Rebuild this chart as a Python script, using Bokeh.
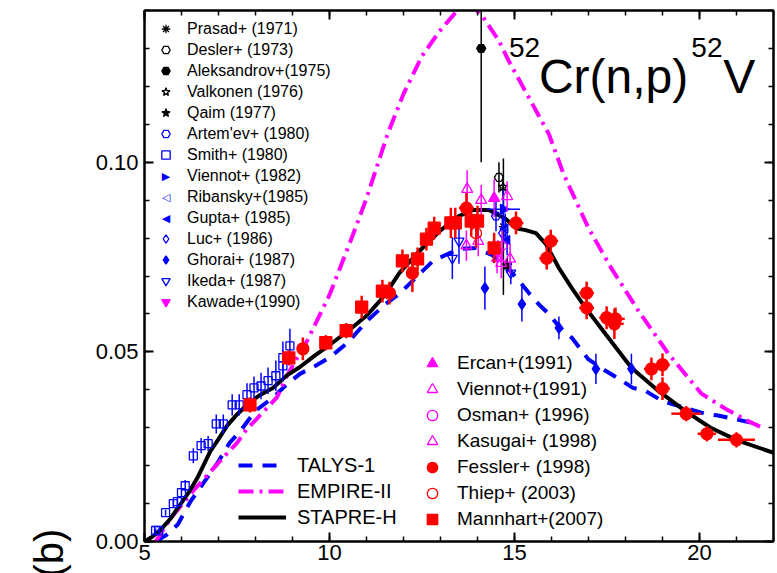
import math
from bokeh.plotting import figure
from bokeh.models import (ColumnDataSource, FixedTicker, PrintfTickFormatter, LinearAxis,
                          Legend, LegendItem, Label, Title)
from bokeh.embed import file_html
from bokeh.resources import INLINE

FONT = "Liberation Sans"

# ---------------- model curves ----------------
talys_e = [5.3, 5.6, 5.9, 6.24, 6.6, 6.96, 7.3, 7.58, 8.0, 8.47, 8.8, 9.2, 9.6, 10.0, 10.5, 11.0,
           11.5, 11.89, 12.43, 12.8, 13.24, 13.6, 13.96, 14.4, 14.77, 15.1, 15.39, 15.66, 15.93,
           16.2, 16.55, 17.0, 17.46, 17.8, 18.2, 18.54, 19.0, 19.24, 19.7, 20.15, 20.5, 21.0, 21.4]
talys_cs = [0.0, 0.0018, 0.0045, 0.0105, 0.0155, 0.0205, 0.026, 0.029, 0.0345, 0.0379, 0.041,
            0.0442, 0.0462, 0.0485, 0.0525, 0.058, 0.0625, 0.0653, 0.0705, 0.074, 0.076, 0.0772,
            0.0774, 0.0755, 0.0726, 0.069, 0.0655, 0.0625, 0.06, 0.0567, 0.0537, 0.048, 0.045,
            0.043, 0.0405, 0.0397, 0.037, 0.0363, 0.035, 0.0337, 0.0332, 0.0322, 0.0313]

empire_e = [5.3, 5.7, 6.32, 6.7, 7.05, 7.5, 7.77, 8.04, 8.58, 8.85, 9.1, 9.4, 9.7, 10.0, 10.28,
            10.6, 11.0, 11.57, 12.0, 12.5, 12.97, 13.5, 13.8, 14.1, 14.58, 14.85, 15.39, 15.93,
            16.33, 17.0, 17.62, 18.35, 19.16, 20.05, 20.7, 21.3, 21.77]
empire_cs = [0.0, 0.006, 0.0134, 0.0175, 0.0213, 0.026, 0.0297, 0.0324, 0.038, 0.0437, 0.048,
             0.053, 0.059, 0.065, 0.072, 0.08, 0.0905, 0.1074, 0.118, 0.128, 0.1345, 0.1405,
             0.1415, 0.139, 0.132, 0.1266, 0.117, 0.1074, 0.0968, 0.0826, 0.072, 0.0608, 0.0495,
             0.039, 0.035, 0.0318, 0.0297]

stapre_e = [5.0, 5.2, 5.43, 5.7, 5.97, 6.2, 6.43, 6.78, 7.0, 7.23, 7.5, 7.77, 8.1, 8.47, 8.85,
            9.2, 9.6, 10.0, 10.5, 11.0, 11.5, 11.89, 12.43, 12.97, 13.5, 13.86, 14.31, 14.77,
            15.04, 15.3, 15.58, 15.85, 16.2, 16.55, 16.92, 17.46, 18.16, 18.89, 19.6, 20.3,
            21.04, 22.0]
stapre_cs = [0.0, 0.0012, 0.003, 0.006, 0.0098, 0.013, 0.0168, 0.0238, 0.027, 0.0305, 0.0335,
             0.036, 0.0385, 0.0405, 0.0438, 0.046, 0.049, 0.0518, 0.0555, 0.0595, 0.065, 0.0708,
             0.0766, 0.0818, 0.0858, 0.0874, 0.0874, 0.085, 0.0826, 0.0821, 0.0813, 0.0784,
             0.0721, 0.0668, 0.0616, 0.0547, 0.0458, 0.0397, 0.0345, 0.030, 0.0266, 0.0234]

# ---------------- experimental data ----------------
prasad_e, prasad_cs, prasad_err = [14.7], [0.083], [0.018]
desler_e, desler_cs, desler_err = [14.58], [0.096], [0.004]
aleks_e, aleks_cs, aleks_err = [14.1], [0.130], [0.030]
valk_e, valk_cs, valk_err = [14.69], [0.0935], [0.003]
qaim_e, qaim_cs, qaim_err = [14.8], [0.0728], [0.002]
artem_e, artem_cs, artem_err = [14.5], [0.0858], [0.004]
smith_e = [5.3, 5.38, 5.57, 5.78, 5.89, 6.0, 6.1, 6.32, 6.53, 6.72, 6.94, 7.13, 7.37, 7.56,
           7.77, 7.96, 8.15, 8.34, 8.55, 8.74, 8.74, 8.93]
smith_cs = [0.0029, 0.0029, 0.0076, 0.010, 0.0105, 0.0129, 0.0147, 0.0226, 0.0253, 0.0258,
            0.031, 0.031, 0.036, 0.036, 0.0387, 0.0405, 0.041, 0.0424, 0.0437, 0.0463, 0.0485,
            0.0516]
smith_err = [0.0005, 0.0005, 0.0008, 0.001, 0.001, 0.0012, 0.0015, 0.002, 0.002, 0.002,
             0.0025, 0.0025, 0.0028, 0.0028, 0.003, 0.003, 0.0035, 0.0035, 0.004, 0.0042,
             0.0042, 0.0045]
vien82_e, vien82_cs, vien82_err, vien82_xerr = [14.7], [0.0876], [0.005], [0.45]
rib_e, rib_cs, rib_err = [14.75], [0.0825], [0.004]
gupta_e, gupta_cs, gupta_err = [14.8], [0.0795], [0.004]
luc_e, luc_cs, luc_err = [14.67], [0.0813], [0.004]
ghorai_e = [14.2, 15.2, 16.2, 17.2, 18.16]
ghorai_cs = [0.0668, 0.0626, 0.0563, 0.0455, 0.0455]
ghorai_err = [0.0057, 0.0046, 0.003, 0.004, 0.004]
ikeda_e, ikeda_cs, ikeda_err = [13.32, 13.5, 14.9], [0.0747, 0.0792, 0.0708], [0.0055, 0.006, 0.003]
kawade_e, kawade_cs, kawade_err = [14.55], [0.0765], [0.003]
ercan_e, ercan_cs, ercan_err = [14.45], [0.0905], [0.005]
vien91_e = [13.72, 13.7, 14.02, 14.8]
vien91_cs = [0.0929, 0.078, 0.0792, 0.091]
vien91_err = [0.005, 0.004, 0.004, 0.004]
osman_e, osman_cs, osman_err = [14.67], [0.078], [0.004]
kasugai_e = [14.1, 14.53, 14.64, 14.88]
kasugai_cs = [0.090, 0.0747, 0.0734, 0.0745]
kasugai_err = [0.004, 0.004, 0.004, 0.004]
fessler_e = [9.28, 11.62, 12.24, 13.7, 15.04, 15.87, 15.98, 16.95, 16.95, 17.49, 17.7, 17.73,
             18.7, 19.0, 19.0, 19.64, 20.2, 21.0]
fessler_cs = [0.0508, 0.0655, 0.0708, 0.0879, 0.084, 0.0747, 0.0792, 0.0655, 0.0616, 0.059,
              0.0574, 0.0587, 0.0455, 0.0466, 0.0403, 0.0337, 0.0284, 0.0268]
fessler_err = [0.003, 0.003, 0.005, 0.004, 0.003, 0.003, 0.003, 0.003, 0.003, 0.003, 0.004,
               0.003, 0.003, 0.003, 0.003, 0.002, 0.002, 0.002]
fessler_xerr = [0.15, 0.15, 0.15, 0.2, 0.2, 0.2, 0.2, 0.2, 0.2, 0.2, 0.25, 0.25, 0.2, 0.2,
                0.2, 0.4, 0.25, 0.5]
thiep_e, thiep_cs, thiep_err = [13.96], [0.0813], [0.004]
mann_e = [7.85, 8.9, 9.9, 10.45, 10.87, 11.43, 11.97, 12.38, 12.62, 12.83, 13.28, 13.4, 13.83,
          14.0, 14.45]
mann_cs = [0.036, 0.0484, 0.0524, 0.0556, 0.0618, 0.066, 0.074, 0.0745, 0.0797, 0.0826, 0.084,
           0.084, 0.0845, 0.0845, 0.0774]
mann_err = [0.002, 0.002, 0.002, 0.002, 0.003, 0.003, 0.003, 0.003, 0.003, 0.003, 0.004, 0.004,
            0.004, 0.004, 0.004]

BLUE, MAG, RED, BLACK = "#0000ff", "#ff00ff", "#ff0000", "#000000"

W, H = 777, 573
BL, BR, BT, BB = 144, 4, 10, 32
X0, X1, Y0, Y1 = 5, 22, 0.0, 0.14

p = figure(width=W, height=H, x_range=(X0, X1), y_range=(Y0, Y1),
           output_backend="svg", toolbar_location=None,
           min_border_left=BL, min_border_right=BR, min_border_top=BT, min_border_bottom=BB,
           x_axis_location=None, y_axis_location=None)
p.background_fill_color = "white"
p.border_fill_color = "white"
p.outline_line_color = BLACK
p.outline_line_width = 2
p.xgrid.visible = False
p.ygrid.visible = False

xt = FixedTicker(ticks=[5, 10, 15, 20], minor_ticks=list(range(5, 23)))
yt = FixedTicker(ticks=[0.0, 0.05, 0.10], minor_ticks=[i / 100 for i in range(0, 15)])


def style_axis(ax, labels=True):
    ax.axis_line_width = 2
    ax.major_tick_in = 9
    ax.major_tick_out = 0
    ax.minor_tick_in = 5
    ax.minor_tick_out = 0
    ax.major_tick_line_width = 2
    ax.minor_tick_line_width = 1.5
    ax.major_label_text_font = FONT
    ax.major_label_text_font_size = "22px"
    ax.major_label_text_color = BLACK
    if not labels:
        ax.major_label_text_font_size = "0px"
        ax.major_label_text_alpha = 0


bx = LinearAxis(ticker=xt)
style_axis(bx)
bx.major_label_standoff = 3
p.add_layout(bx, "below")
tx = LinearAxis(ticker=xt)
style_axis(tx, labels=False)
p.add_layout(tx, "above")
ly = LinearAxis(ticker=yt, formatter=PrintfTickFormatter(format="%.2f"))
style_axis(ly)
ly.major_label_standoff = 6
p.add_layout(ly, "left")
ry = LinearAxis(ticker=yt)
style_axis(ry, labels=False)
p.add_layout(ry, "right")

# y-axis unit, partly cut off at the bottom of the page as in the original
p.add_layout(Title(text="(b)", align="left", vertical_align="top", offset=-36, standoff=40,
                   text_font=FONT, text_font_size="40px", text_font_style="normal",
                   text_color=BLACK), "left")

# ---------------- curves ----------------
r_talys = p.line(talys_e, talys_cs, line_color=BLUE, line_width=4, line_dash="14 10")
r_empire = p.line(empire_e, empire_cs, line_color=MAG, line_width=4, line_dash="15 6 3 6")
r_stapre = p.line(stapre_e, stapre_cs, line_color=BLACK, line_width=4)


def dataset(e, cs, err, marker, color, filled, size, angle=0.0, xerr=None, lw=1.5):
    src = ColumnDataSource(dict(
        e=e, cs=cs,
        lo=[c - d for c, d in zip(cs, err)],
        hi=[c + d for c, d in zip(cs, err)],
    ))
    p.segment(x0="e", y0="lo", x1="e", y1="hi", source=src, line_color=color, line_width=lw)
    if xerr is not None:
        src.data["xl"] = [a - d for a, d in zip(e, xerr)]
        src.data["xh"] = [a + d for a, d in zip(e, xerr)]
        p.segment(x0="xl", y0="cs", x1="xh", y1="cs", source=src, line_color=color, line_width=lw)
    return p.scatter(x="e", y="cs", source=src, marker=marker, size=size, angle=angle,
                     line_color=color, line_width=1.3,
                     fill_color=color if filled else None)


r_prasad = dataset(prasad_e, prasad_cs, prasad_err, "asterisk", BLACK, False, 9)
r_desler = dataset(desler_e, desler_cs, desler_err, "hex", BLACK, False, 9)
r_aleks = dataset(aleks_e, aleks_cs, aleks_err, "hex", BLACK, True, 9)
r_valk = dataset(valk_e, valk_cs, valk_err, "star", BLACK, False, 10)
r_qaim = dataset(qaim_e, qaim_cs, qaim_err, "star", BLACK, True, 10)
r_artem = dataset(artem_e, artem_cs, artem_err, "hex", BLUE, False, 9)
r_smith = dataset(smith_e, smith_cs, smith_err, "square", BLUE, False, 8)
r_vien82 = dataset(vien82_e, vien82_cs, vien82_err, "triangle", BLUE, True, 10,
                   angle=-math.pi / 2, xerr=vien82_xerr)
r_rib = dataset(rib_e, rib_cs, rib_err, "triangle", BLUE, False, 9, angle=math.pi / 2)
r_gupta = dataset(gupta_e, gupta_cs, gupta_err, "triangle", BLUE, True, 9, angle=math.pi / 2)
r_luc = dataset(luc_e, luc_cs, luc_err, "diamond", BLUE, False, 11)
r_ghorai = dataset(ghorai_e, ghorai_cs, ghorai_err, "diamond", BLUE, True, 11)
r_ikeda = dataset(ikeda_e, ikeda_cs, ikeda_err, "inverted_triangle", BLUE, False, 10)
r_kawade = dataset(kawade_e, kawade_cs, kawade_err, "inverted_triangle", MAG, True, 10)
r_ercan = dataset(ercan_e, ercan_cs, ercan_err, "triangle", MAG, True, 11)
r_vien91 = dataset(vien91_e, vien91_cs, vien91_err, "triangle", MAG, False, 11)
r_osman = dataset(osman_e, osman_cs, osman_err, "circle", MAG, False, 9)
r_kasugai = dataset(kasugai_e, kasugai_cs, kasugai_err, "triangle", MAG, False, 11)
r_fessler = dataset(fessler_e, fessler_cs, fessler_err, "circle", RED, True, 12,
                    xerr=fessler_xerr, lw=2.5)
r_thiep = dataset(thiep_e, thiep_cs, thiep_err, "circle", RED, False, 11, lw=2)
r_mann = dataset(mann_e, mann_cs, mann_err, "square", RED, True, 12, lw=2.5)

# invisible stand-ins for sideways triangles (legend glyphs cannot be rotated);
# the sideways symbol itself is drawn as a text character in the legend slot
def hidden(e, cs):
    return p.scatter(e, cs, size=0, line_alpha=0, fill_alpha=0)


h_vien82 = hidden(vien82_e, vien82_cs)
h_rib = hidden(rib_e, rib_cs)
h_gupta = hidden(gupta_e, gupta_cs)

# ---------------- legends ----------------
leg1_items = [
    ("Prasad+ (1971)", r_prasad), ("Desler+ (1973)", r_desler),
    ("Aleksandrov+(1975)", r_aleks), ("Valkonen (1976)", r_valk), ("Qaim (1977)", r_qaim),
    ("Artem'ev+ (1980)", r_artem), ("Smith+ (1980)", r_smith), ("Viennot+ (1982)", h_vien82),
    ("Ribansky+(1985)", h_rib), ("Gupta+ (1985)", h_gupta), ("Luc+ (1986)", r_luc),
    ("Ghorai+ (1987)", r_ghorai), ("Ikeda+ (1987)", r_ikeda), ("Kawade+(1990)", r_kawade),
]
leg2_items = [
    ("Ercan+(1991)", r_ercan), ("Viennot+(1991)", r_vien91), ("Osman+ (1996)", r_osman),
    ("Kasugai+ (1998)", r_kasugai), ("Fessler+ (1998)", r_fessler), ("Thiep+ (2003)", r_thiep),
    ("Mannhart+(2007)", r_mann),
]
leg3_items = [("TALYS-1", r_talys), ("EMPIRE-II", r_empire), ("STAPRE-H", r_stapre)]


def make_legend(items, loc, font, gw, gh, standoff):
    lg = Legend(items=[LegendItem(label=t, renderers=[r]) for t, r in items], location=loc)
    lg.border_line_color = None
    lg.background_fill_alpha = 0
    lg.padding = 0
    lg.margin = 0
    lg.spacing = 0
    lg.glyph_width = gw
    lg.glyph_height = gh
    lg.label_height = gh
    lg.label_standoff = standoff
    lg.label_text_font = FONT
    lg.label_text_font_size = font
    lg.label_text_color = BLACK
    lg.label_text_baseline = "middle"
    p.add_layout(lg, "center")
    return lg


L1_LOC, L1_G, L1_N = (11, 229), 21, len(leg1_items)
make_legend(leg1_items, L1_LOC, "16px", L1_G, L1_G, 11)
make_legend(leg2_items, (275, 9), "19px", 26, 26, 12)
make_legend(leg3_items, (94, 11), "20px", 48, 26, 11)

# frame geometry -> data coordinates for legend-slot symbols
FW, FH = W - BL - BR, H - BT - BB


def slot_data(i):
    sx = L1_LOC[0] + L1_G / 2
    sy = L1_LOC[1] + (L1_N - i) * L1_G - L1_G / 2
    return X0 + sx / FW * (X1 - X0), Y0 + sy / FH * (Y1 - Y0)


for idx, ch in [(7, "\u25B6"), (8, "\u25C1"), (9, "\u25C0")]:
    lx, lyy = slot_data(idx)
    p.add_layout(Label(x=lx, y=lyy, text=ch, text_font="DejaVu Sans", text_font_size="11px",
                       text_color=BLUE, text_align="center", text_baseline="middle"))

# ---------------- title ----------------
def lab(x, y, text, size):
    p.add_layout(Label(x=x, y=y, text=text, text_font=FONT, text_font_size=size,
                       text_color=BLACK, text_baseline="alphabetic"))


lab(14.85, 0.1303, "52", "28px")
lab(15.66, 0.1226, "Cr(n,p)", "48px")
lab(19.78, 0.1303, "52", "28px")
lab(20.64, 0.1226, "V", "48px")

open("out.html", "w").write(file_html(p, INLINE))
